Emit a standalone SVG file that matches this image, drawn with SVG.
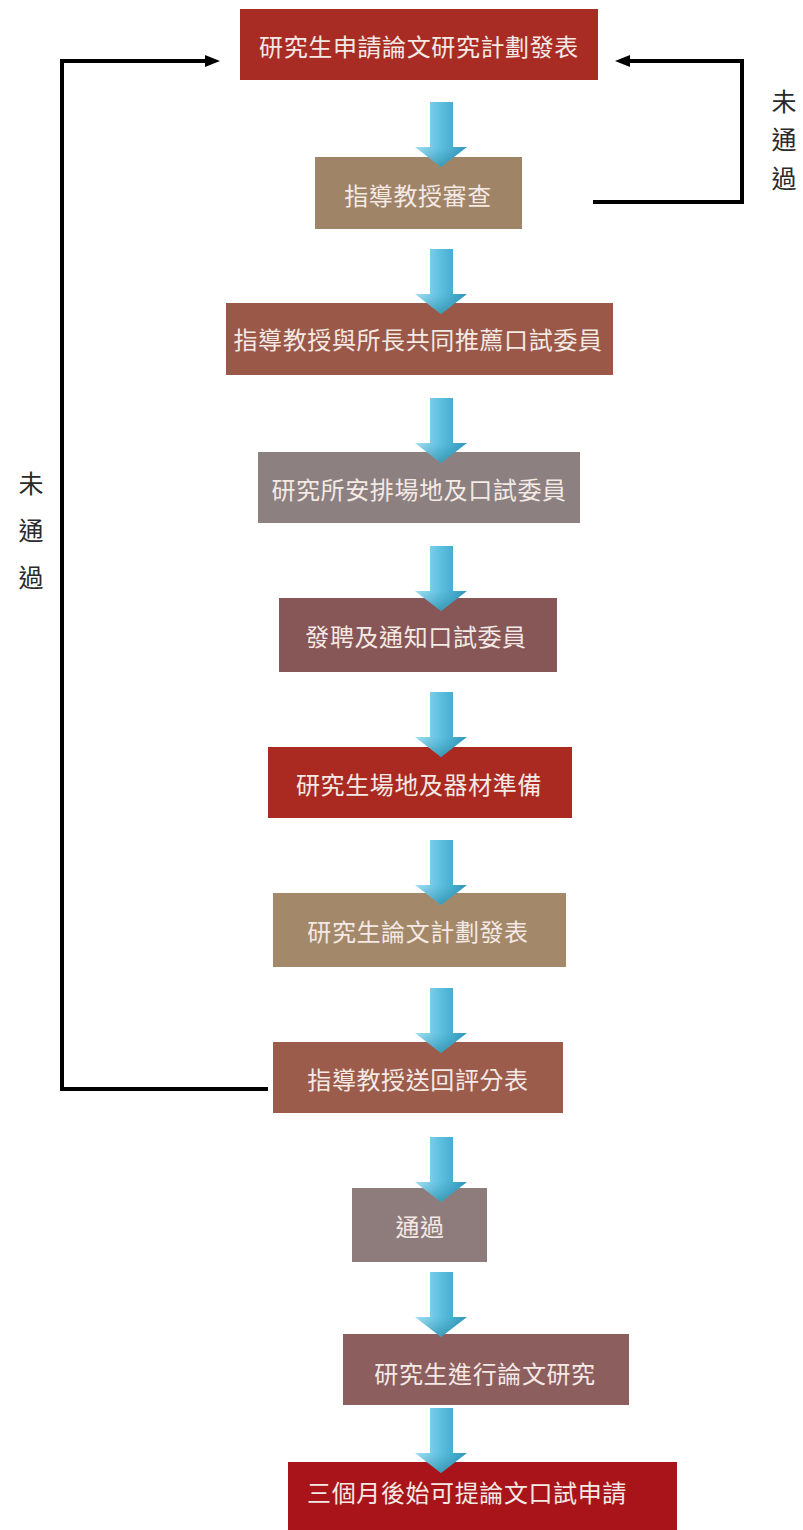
<svg xmlns="http://www.w3.org/2000/svg" xmlns:xlink="http://www.w3.org/1999/xlink" width="803" height="1530" viewBox="0 0 803 1530">
<style>
.box-text{font-family:"Noto Sans CJK TC","Noto Sans CJK SC",sans-serif;font-size:24px;fill:#f4e9e4;text-anchor:middle;dominant-baseline:central;letter-spacing:0.6px}
.side{font-family:"Noto Sans CJK TC","Noto Sans CJK SC",serif;font-size:25px;fill:#2a2a2a;text-anchor:middle;dominant-baseline:central}
.conn{fill:none;stroke:#000;stroke-width:4;stroke-linejoin:miter}
</style>
<defs>
<linearGradient id="blue" x1="0" y1="0" x2="1" y2="0">
<stop offset="0" stop-color="#a6e0f2"/>
<stop offset="0.45" stop-color="#62c3e2"/>
<stop offset="1" stop-color="#2f97bc"/>
</linearGradient>
<linearGradient id="headshade" x1="0" y1="0" x2="0" y2="1">
<stop offset="0" stop-color="#2f8fae" stop-opacity="0"/>
<stop offset="1" stop-color="#1f7a8e" stop-opacity="0.55"/>
</linearGradient>
<g id="blockArrow">
<path d="M-11,0 H12 V45 H26 L0,65 L-26,45 H-11 Z" fill="url(#blue)"/>
<path d="M-26,45 H26 L0,65 Z" fill="url(#headshade)"/>
</g>
<marker id="ah" markerUnits="userSpaceOnUse" markerWidth="16" markerHeight="14" refX="2" refY="7" orient="auto">
<path d="M0,1 L15,7 L0,13 Z" fill="#000"/>
</marker>
</defs>
<rect width="803" height="1530" fill="#ffffff"/>

<g id="node1"><rect x="240" y="9" width="358" height="71" fill="#a82c24"/><text class="box-text" x="419" y="45">研究生申請論文研究計劃發表</text></g>
<g id="node2"><rect x="315" y="157" width="207" height="72" fill="#a08468"/><text class="box-text" x="418" y="194">指導教授審查</text></g>
<g id="node3"><rect x="226" y="303" width="387" height="72" fill="#9a5848"/><text class="box-text" x="418" y="338">指導教授與所長共同推薦口試委員</text></g>
<g id="node4"><rect x="258" y="452" width="322" height="71" fill="#8c8080"/><text class="box-text" x="419" y="488">研究所安排場地及口試委員</text></g>
<g id="node5"><rect x="279" y="598" width="278" height="74" fill="#875656"/><text class="box-text" x="416" y="635">發聘及通知口試委員</text></g>
<g id="node6"><rect x="268" y="747" width="304" height="71" fill="#aa2a22"/><text class="box-text" x="419" y="783">研究生場地及器材準備</text></g>
<g id="node7"><rect x="273" y="893" width="293" height="74" fill="#a38869"/><text class="box-text" x="418" y="930">研究生論文計劃發表</text></g>
<g id="node8"><rect x="273" y="1042" width="290" height="71" fill="#9c5c4c"/><text class="box-text" x="418" y="1078">指導教授送回評分表</text></g>
<g id="node9"><rect x="352" y="1188" width="135" height="74" fill="#8e7c7c"/><text class="box-text" x="420" y="1225">通過</text></g>
<g id="node10"><rect x="343" y="1334" width="286" height="71" fill="#8c5e5e"/><text class="box-text" x="485" y="1372">研究生進行論文研究</text></g>
<g id="node11"><rect x="288" y="1462" width="389" height="68" fill="#a8141a"/><text class="box-text" x="467" y="1491">三個月後始可提論文口試申請</text></g>

<g id="connectors">
<use xlink:href="#blockArrow" transform="translate(441,102)"/>
<use xlink:href="#blockArrow" transform="translate(441,249)"/>
<use xlink:href="#blockArrow" transform="translate(441,398)"/>
<use xlink:href="#blockArrow" transform="translate(441,546)"/>
<use xlink:href="#blockArrow" transform="translate(441,692)"/>
<use xlink:href="#blockArrow" transform="translate(441,840)"/>
<use xlink:href="#blockArrow" transform="translate(441,988)"/>
<use xlink:href="#blockArrow" transform="translate(441,1137)"/>
<use xlink:href="#blockArrow" transform="translate(441,1272)"/>
<use xlink:href="#blockArrow" transform="translate(441,1408)"/>
<path class="conn" d="M268,1089 H62 V61 H207" marker-end="url(#ah)"/>
<path class="conn" d="M593,202 H742 V61 H628" marker-end="url(#ah)"/>
</g>

<g id="labels">
<text class="side" x="784" y="100">未</text>
<text class="side" x="784" y="138">通</text>
<text class="side" x="784" y="177">過</text>
<text class="side" x="31" y="482">未</text>
<text class="side" x="31" y="529">通</text>
<text class="side" x="31" y="576">過</text>
</g>
</svg>
